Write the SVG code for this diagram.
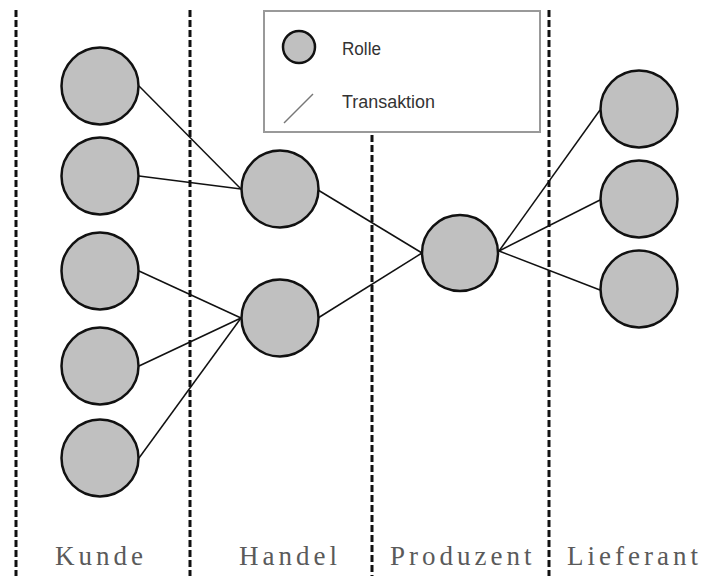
<svg xmlns="http://www.w3.org/2000/svg" width="708" height="576" viewBox="0 0 708 576">
  <style>
    .role { fill: #c0c0c0; stroke: #111; stroke-width: 2.5; }
    .tx { stroke: #111; stroke-width: 1.5; fill: none; }
    .sep { stroke: #111; stroke-width: 3; stroke-dasharray: 7 3; fill: none; }
    .lane { font-family: "Liberation Serif", "Times New Roman", serif; font-size: 27px; letter-spacing: 4px; fill: #5a5a5a; }
    .legend-text { font-family: "Liberation Sans", Arial, sans-serif; font-size: 17.5px; fill: #333; }
  </style>
  <rect width="708" height="576" fill="#fff"/>

  <!-- lane separators -->
  <g id="separators">
    <line class="sep" x1="16" y1="10" x2="16" y2="576"/>
    <line class="sep" x1="190" y1="10" x2="190" y2="576"/>
    <line class="sep" x1="372" y1="135" x2="372" y2="576"/>
    <line class="sep" x1="549" y1="10" x2="549" y2="576"/>
  </g>

  <!-- legend -->
  <g id="legend">
    <rect x="264" y="11" width="276" height="121" fill="#fff" stroke="#999" stroke-width="2"/>
    <circle class="role" cx="299" cy="47" r="16"/>
    <text class="legend-text" x="342" y="55" textLength="39" lengthAdjust="spacingAndGlyphs">Rolle</text>
    <line x1="284" y1="123" x2="313" y2="94" stroke="#777" stroke-width="1.5"/>
    <text class="legend-text" x="342" y="108" textLength="93" lengthAdjust="spacingAndGlyphs">Transaktion</text>
  </g>

  <!-- transactions -->
  <g id="connectors">
    <line class="tx" x1="139" y1="86" x2="241" y2="189"/>
    <line class="tx" x1="139" y1="176" x2="241" y2="189"/>
    <line class="tx" x1="139" y1="271" x2="241" y2="318"/>
    <line class="tx" x1="139" y1="366" x2="241" y2="318"/>
    <line class="tx" x1="139" y1="458" x2="241" y2="318"/>
    <line class="tx" x1="318" y1="190" x2="422" y2="253"/>
    <line class="tx" x1="318" y1="318" x2="422" y2="253"/>
    <line class="tx" x1="499" y1="251" x2="600" y2="110"/>
    <line class="tx" x1="499" y1="251" x2="600" y2="200"/>
    <line class="tx" x1="499" y1="251" x2="600" y2="290"/>
  </g>

  <!-- roles: Kunde -->
  <g id="kunde-1"><circle class="role" cx="100" cy="86" r="38.5"/></g>
  <g id="kunde-2"><circle class="role" cx="100" cy="176" r="38.5"/></g>
  <g id="kunde-3"><circle class="role" cx="100" cy="271" r="38.5"/></g>
  <g id="kunde-4"><circle class="role" cx="100" cy="366" r="38.5"/></g>
  <g id="kunde-5"><circle class="role" cx="100" cy="458" r="38.5"/></g>

  <!-- roles: Handel -->
  <g id="handel-1"><circle class="role" cx="280" cy="189" r="38.5"/></g>
  <g id="handel-2"><circle class="role" cx="280" cy="318" r="38.5"/></g>

  <!-- role: Produzent -->
  <g id="produzent"><circle class="role" cx="460" cy="253" r="38"/></g>

  <!-- roles: Lieferant -->
  <g id="lieferant-1"><circle class="role" cx="639" cy="109" r="38.5"/></g>
  <g id="lieferant-2"><circle class="role" cx="639" cy="199" r="38.5"/></g>
  <g id="lieferant-3"><circle class="role" cx="639" cy="289" r="38.5"/></g>

  <!-- lane labels -->
  <g id="lane-labels">
    <text class="lane" x="55" y="565">Kunde</text>
    <text class="lane" x="239" y="565">Handel</text>
    <text class="lane" x="390" y="565">Produzent</text>
    <text class="lane" x="567" y="565">Lieferant</text>
  </g>
</svg>
